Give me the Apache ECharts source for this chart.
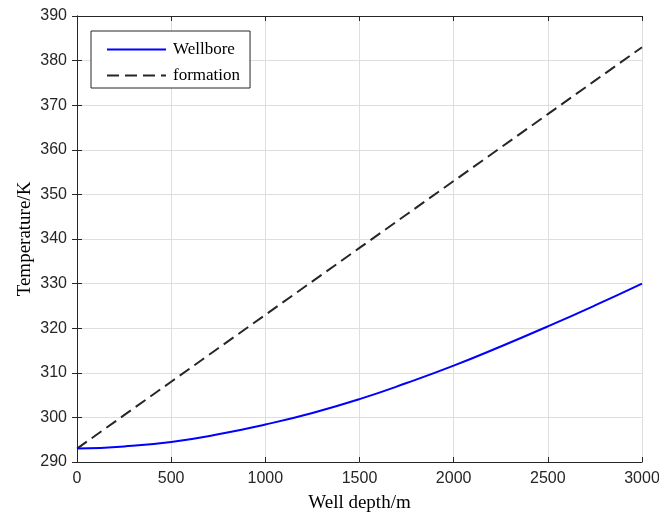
<!DOCTYPE html>
<html style="height: 100%">
<head>
<meta charset="utf-8">
<script src="https://cdn.jsdelivr.net/npm/echarts@6/dist/echarts.min.js"></script>
</head>
<body style="height: 100%; margin: 0; background: #fff;">
<div id="container" style="width: 659px; height: 517px;"></div>
<script type="text/javascript">
// 井深 (m)
var depth = [0, 250, 500, 750, 1000, 1250, 1500, 1750, 2000, 2250, 2500, 2750, 3000];
// 井筒温度 (K)
var wellbore = [293, 293.5, 294.5, 296.2, 298.4, 301, 304.1, 307.7, 311.6, 315.9, 320.4, 325.1, 330];
// 地层温度 (K)
var formation = [293, 300.5, 308, 315.5, 323, 330.5, 338, 345.5, 353, 360.5, 368, 375.5, 383];

function pairs(ys) {
    return depth.map(function (d, i) { return [d, ys[i]]; });
}

var myChart = echarts.init(document.getElementById('container'));

var frameAxis = {
    axisLine: {show: true, lineStyle: {color: '#262626', width: 1}},
    axisTick: {show: true, inside: true, length: 5, lineStyle: {color: '#262626'}},
    axisLabel: {show: false},
    splitLine: {show: false}
};

var option = {
    animation: false,
    grid: {left: 77, right: 17, top: 16, bottom: 55, outerBoundsMode: 'none', containLabel: false},
    legend: {
        orient: 'vertical',
        left: 91,
        top: 31,
        backgroundColor: '#fff',
        borderColor: '#262626',
        borderWidth: 1,
        borderRadius: 0,
        padding: [10, 10, 4, 15],
        itemWidth: 59,
        itemHeight: 14,
        itemGap: 9,
        itemStyle: {opacity: 0},
        textStyle: {fontFamily: 'Liberation Serif', fontSize: 17, color: '#000', padding: [0, 0, 0, 2]},
        data: ['Wellbore', 'formation']
    },
    xAxis: [{
        type: 'value',
        min: 0, max: 3000, interval: 500,
        name: 'Well depth/m',
        nameLocation: 'middle',
        nameGap: 32,
        nameMoveOverlap: false,
        nameTextStyle: {fontFamily: 'Liberation Serif', fontSize: 19, color: '#000'},
        axisLine: {lineStyle: {color: '#262626'}},
        axisTick: {inside: true, length: 5, lineStyle: {color: '#262626'}},
        axisLabel: {fontFamily: 'Liberation Sans', fontSize: 16, color: '#262626', margin: 9,
            formatter: function (v) { return String(v); }},
        splitLine: {show: true, lineStyle: {color: '#dedede'}}
    }, Object.assign({
        type: 'value', position: 'top', min: 0, max: 3000, interval: 500
    }, frameAxis)],
    yAxis: [{
        type: 'value',
        min: 290, max: 390, interval: 10,
        name: 'Temperature/K',
        nameLocation: 'middle',
        nameGap: 42,
        nameMoveOverlap: false,
        nameTextStyle: {fontFamily: 'Liberation Serif', fontSize: 19, color: '#000'},
        axisLine: {show: true, lineStyle: {color: '#262626'}},
        axisTick: {show: true, inside: true, length: 5, lineStyle: {color: '#262626'}},
        axisLabel: {fontFamily: 'Liberation Sans', fontSize: 16, color: '#262626', margin: 10},
        splitLine: {show: true, lineStyle: {color: '#dedede'}}
    }, Object.assign({
        type: 'value', position: 'right', min: 290, max: 390, interval: 10
    }, frameAxis)],
    series: [{
        name: 'Wellbore',
        type: 'line',
        smooth: true,
        symbol: 'none',
        lineStyle: {color: '#0000ff', width: 2},
        itemStyle: {color: '#0000ff'},
        data: pairs(wellbore),
        z: 3
    }, {
        name: 'formation',
        type: 'line',
        symbol: 'none',
        lineStyle: {color: '#262626', width: 2, type: [12, 6]},
        itemStyle: {color: '#262626'},
        data: pairs(formation),
        z: 2
    }]
};

myChart.setOption(option);
</script>
</body>
</html>
